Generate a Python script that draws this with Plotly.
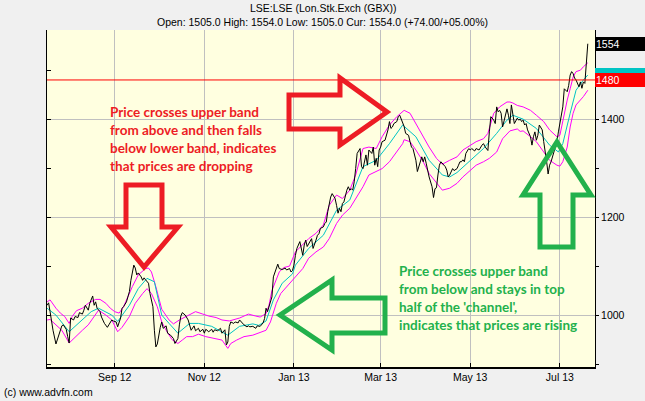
import plotly.graph_objects as go

# ---------------- data ----------------
price_dates = [
 "2012-07-17","2012-07-18","2012-07-19","2012-07-21","2012-07-23","2012-07-25","2012-07-27","2012-07-28","2012-07-30","2012-07-31",
 "2012-08-01","2012-08-02","2012-08-04","2012-08-05","2012-08-07","2012-08-08","2012-08-10","2012-08-11","2012-08-12","2012-08-14",
 "2012-08-15","2012-08-17","2012-08-18","2012-08-19","2012-08-20","2012-08-22","2012-08-23","2012-08-25","2012-08-27","2012-08-28",
 "2012-08-30","2012-08-31","2012-09-02","2012-09-03","2012-09-05","2012-09-06","2012-09-07","2012-09-09","2012-09-10","2012-09-11",
 "2012-09-12","2012-09-14","2012-09-15","2012-09-16","2012-09-17","2012-09-19","2012-09-20","2012-09-21","2012-09-22","2012-09-24",
 "2012-09-25","2012-09-27","2012-09-28","2012-09-29","2012-09-30","2012-10-01","2012-10-02","2012-10-03","2012-10-04","2012-10-06",
 "2012-10-07","2012-10-09","2012-10-11","2012-10-12","2012-10-14","2012-10-15","2012-10-16","2012-10-17","2012-10-19","2012-10-21",
 "2012-10-22","2012-10-23","2012-10-25","2012-10-26","2012-10-28","2012-10-29","2012-10-31","2012-11-01","2012-11-02","2012-11-04",
 "2012-11-06","2012-11-07","2012-11-08","2012-11-10","2012-11-12","2012-11-13","2012-11-15","2012-11-16","2012-11-17","2012-11-18",
 "2012-11-19","2012-11-21","2012-11-22","2012-11-24","2012-11-25","2012-11-27","2012-11-28","2012-11-30","2012-12-01","2012-12-02",
 "2012-12-04","2012-12-06","2012-12-07","2012-12-09","2012-12-11","2012-12-12","2012-12-13","2012-12-14","2012-12-16","2012-12-17",
 "2012-12-18","2012-12-20","2012-12-21","2012-12-22","2012-12-24","2012-12-26","2012-12-27","2012-12-29","2012-12-30","2012-12-31",
 "2013-01-01","2013-01-02","2013-01-03","2013-01-05","2013-01-06","2013-01-07","2013-01-08","2013-01-09","2013-01-10","2013-01-11",
 "2013-01-13","2013-01-14","2013-01-15","2013-01-16","2013-01-17","2013-01-18","2013-01-19","2013-01-21","2013-01-22","2013-01-23",
 "2013-01-24","2013-01-25","2013-01-26","2013-01-27","2013-01-29","2013-01-30","2013-01-31","2013-02-01","2013-02-02","2013-02-03",
 "2013-02-04","2013-02-06","2013-02-07","2013-02-08","2013-02-09","2013-02-10","2013-02-11","2013-02-12","2013-02-13","2013-02-15",
 "2013-02-16","2013-02-17","2013-02-18","2013-02-19","2013-02-20","2013-02-21","2013-02-23","2013-02-24","2013-02-25","2013-02-26",
 "2013-02-27","2013-02-28","2013-03-01","2013-03-02","2013-03-04","2013-03-05","2013-03-06","2013-03-07","2013-03-08","2013-03-09",
 "2013-03-10","2013-03-12","2013-03-13","2013-03-14","2013-03-15","2013-03-16","2013-03-17","2013-03-18","2013-03-20","2013-03-21",
 "2013-03-22","2013-03-23","2013-03-24","2013-03-25","2013-03-26","2013-03-28","2013-03-29","2013-03-30","2013-03-31","2013-04-01",
 "2013-04-02","2013-04-03","2013-04-05","2013-04-06","2013-04-07","2013-04-08","2013-04-09","2013-04-10","2013-04-11","2013-04-12",
 "2013-04-14","2013-04-15","2013-04-16","2013-04-17","2013-04-18","2013-04-19","2013-04-20","2013-04-22","2013-04-23","2013-04-24",
 "2013-04-25","2013-04-26","2013-04-27","2013-04-28","2013-04-30","2013-05-01","2013-05-02","2013-05-03","2013-05-04","2013-05-05",
 "2013-05-06","2013-05-07","2013-05-09","2013-05-10","2013-05-11","2013-05-12","2013-05-13","2013-05-14","2013-05-15","2013-05-17",
 "2013-05-18","2013-05-19","2013-05-20","2013-05-21","2013-05-22","2013-05-23","2013-05-25","2013-05-26","2013-05-27","2013-05-28",
 "2013-05-29","2013-05-30","2013-05-31","2013-06-02","2013-06-03","2013-06-04","2013-06-05","2013-06-06","2013-06-07","2013-06-08",
 "2013-06-09","2013-06-11","2013-06-12","2013-06-13","2013-06-14","2013-06-15","2013-06-16","2013-06-17","2013-06-19","2013-06-20",
 "2013-06-21","2013-06-22","2013-06-23","2013-06-24","2013-06-25","2013-06-27","2013-06-28","2013-06-29","2013-06-30","2013-07-01",
 "2013-07-02","2013-07-03","2013-07-04","2013-07-06","2013-07-07","2013-07-08","2013-07-09","2013-07-10","2013-07-11","2013-07-12",
 "2013-07-14","2013-07-15","2013-07-16","2013-07-17","2013-07-18","2013-07-19","2013-07-20",
]
price_close = [
 1020,1025,1007,969,941,959,978,980,971,956,
 943,994,990,997,995,1005,1002,1010,1020,1010,
 1024,1039,1020,1027,1014,1007,996,983,975,980,
 990,988,986,976,994,1014,1017,1027,1037,1048,
 1071,1102,1096,1082,1086,1078,1071,1076,1072,1065,
 1044,1017,969,935,941,963,975,986,973,978,
 963,959,952,942,952,980,998,1005,1000,990,
 976,969,978,968,973,966,971,963,971,966,
 971,965,970,968,973,963,970,939,945,977,
 986,983,986,984,990,983,980,976,978,976,
 977,973,978,977,984,993,1014,1007,1024,1037,
 1078,1099,1104,1095,1093,1096,1092,1095,1088,1091,
 1102,1122,1136,1150,1136,1122,1143,1153,1140,1146,
 1156,1136,1143,1153,1163,1166,1177,1180,1187,1190,
 1211,1231,1241,1248,1238,1224,1208,1218,1211,1228,
 1231,1255,1262,1255,1258,1255,1272,1299,1330,1340,
 1303,1299,1316,1327,1306,1337,1330,1343,1306,1320,
 1303,1337,1343,1354,1357,1367,1378,1395,1381,1384,
 1391,1395,1405,1408,1400,1391,1385,1371,1367,1354,
 1343,1340,1327,1316,1293,1316,1323,1313,1323,1310,
 1296,1282,1262,1240,1258,1260,1286,1306,1313,1310,
 1303,1296,1282,1286,1293,1299,1295,1299,1306,1313,
 1313,1317,1313,1330,1340,1337,1340,1337,1335,1340,
 1338,1337,1347,1350,1344,1340,1336,1374,1405,1398,
 1391,1425,1415,1418,1412,1384,1411,1421,1408,1391,
 1429,1405,1391,1402,1398,1400,1395,1398,1388,1391,
 1378,1364,1347,1364,1374,1357,1367,1388,1378,1354,
 1337,1313,1288,1306,1313,1333,1340,1354,1374,1391,
 1408,1425,1462,1456,1469,1490,1497,1493,1484,1480,
 1466,1476,1463,1476,1473,1517,1554,
]

upper_dates = [
 "2012-07-17","2012-07-19","2012-07-23","2012-07-26","2012-07-29","2012-08-01","2012-08-03","2012-08-06","2012-08-10","2012-08-14",
 "2012-08-19","2012-08-22","2012-08-26","2012-08-29","2012-09-01","2012-09-04","2012-09-07","2012-09-09","2012-09-13","2012-09-17",
 "2012-09-22","2012-09-24","2012-09-26","2012-09-29","2012-10-01","2012-10-03","2012-10-08","2012-10-11","2012-10-15","2012-10-18",
 "2012-10-22","2012-10-26","2012-10-31","2012-11-04","2012-11-09","2012-11-13","2012-11-18","2012-11-21","2012-11-25","2012-11-28",
 "2012-12-01","2012-12-06","2012-12-09","2012-12-13","2012-12-15","2012-12-17","2012-12-20","2012-12-22","2012-12-25","2012-12-29",
 "2013-01-02","2013-01-07","2013-01-11","2013-01-16","2013-01-21","2013-01-25","2013-01-30","2013-02-03","2013-02-08","2013-02-12",
 "2013-02-17","2013-02-21","2013-02-26","2013-03-02","2013-03-07","2013-03-12","2013-03-16","2013-03-17","2013-03-21","2013-03-25",
 "2013-03-30","2013-04-03","2013-04-08","2013-04-12","2013-04-17","2013-04-22","2013-04-26","2013-05-01","2013-05-05","2013-05-10",
 "2013-05-13","2013-05-17","2013-05-21","2013-05-26","2013-05-28","2013-05-30","2013-06-02","2013-06-06","2013-06-11","2013-06-15",
 "2013-06-20","2013-06-24","2013-06-29","2013-07-01","2013-07-03","2013-07-06","2013-07-08","2013-07-10","2013-07-12","2013-07-15",
 "2013-07-17","2013-07-20",
]
upper_band = [
 1027,1031,1014,1004,997,983,997,1009,1014,1024,
 1032,1032,1024,1014,1007,1004,1017,1031,1058,1082,
 1095,1096,1088,1058,1034,1012,990,982,990,995,
 1002,1007,1002,998,995,990,988,990,994,998,
 1002,998,996,1003,1020,1050,1075,1088,1097,1100,
 1129,1143,1156,1167,1184,1224,1245,1238,1255,1286,
 1340,1343,1340,1364,1388,1405,1416,1418,1412,1391,
 1367,1343,1320,1308,1316,1323,1337,1347,1354,1360,
 1371,1412,1425,1435,1435,1433,1428,1425,1418,1408,
 1395,1378,1364,1367,1398,1439,1462,1486,1497,1500,
 1507,1515,
]

lower_dates = [
 "2012-07-17","2012-07-19","2012-07-23","2012-07-27","2012-08-01","2012-08-03","2012-08-06","2012-08-10","2012-08-14","2012-08-18",
 "2012-08-21","2012-08-26","2012-08-30","2012-09-03","2012-09-06","2012-09-11","2012-09-15","2012-09-20","2012-09-23","2012-09-26",
 "2012-09-30","2012-10-03","2012-10-06","2012-10-10","2012-10-14","2012-10-17","2012-10-20","2012-10-24","2012-10-28","2012-11-02",
 "2012-11-06","2012-11-13","2012-11-17","2012-11-19","2012-11-23","2012-11-28","2012-12-04","2012-12-08","2012-12-13","2012-12-16",
 "2012-12-20","2012-12-23","2012-12-28","2012-12-31","2013-01-02","2013-01-07","2013-01-11","2013-01-16","2013-01-21","2013-01-25",
 "2013-01-30","2013-02-03","2013-02-08","2013-02-12","2013-02-17","2013-02-21","2013-02-26","2013-03-02","2013-03-07","2013-03-12",
 "2013-03-16","2013-03-17","2013-03-21","2013-03-25","2013-03-30","2013-04-03","2013-04-08","2013-04-12","2013-04-17","2013-04-22",
 "2013-04-26","2013-05-01","2013-05-05","2013-05-10","2013-05-14","2013-05-19","2013-05-23","2013-05-28","2013-05-31","2013-06-02",
 "2013-06-04","2013-06-06","2013-06-11","2013-06-15","2013-06-20","2013-06-24","2013-06-29","2013-07-01","2013-07-03","2013-07-06",
 "2013-07-08","2013-07-10","2013-07-12","2013-07-15","2013-07-17","2013-07-20",
]
lower_band = [
 990,991,980,969,943,949,959,969,980,997,
 1010,1000,990,966,975,997,1024,1044,1054,1044,
 1017,986,969,950,942,949,956,956,961,956,
 953,949,932,942,949,956,959,963,969,986,
 1024,1044,1061,1070,1078,1095,1116,1129,1139,1156,
 1187,1204,1218,1238,1262,1286,1293,1299,1313,1333,
 1350,1358,1354,1337,1313,1289,1269,1255,1259,1269,
 1282,1296,1306,1313,1320,1333,1360,1376,1378,1380,
 1375,1376,1364,1354,1333,1316,1306,1304,1313,1343,
 1384,1412,1429,1439,1446,1459,
]

mid_dates = [
 "2012-07-17","2012-07-23","2012-08-01","2012-08-07","2012-08-16","2012-08-21","2012-08-30","2012-09-03","2012-09-11","2012-09-17",
 "2012-09-23","2012-09-28","2012-10-03","2012-10-08","2012-10-14","2012-10-22","2012-10-28","2012-11-06","2012-11-17","2012-11-25",
 "2012-12-04","2012-12-08","2012-12-13","2012-12-18","2012-12-24","2012-12-31","2013-01-02","2013-01-11","2013-01-21","2013-01-30",
 "2013-02-08","2013-02-17","2013-02-26","2013-03-07","2013-03-16","2013-03-25","2013-04-03","2013-04-12","2013-04-17","2013-04-22",
 "2013-05-01","2013-05-10","2013-05-19","2013-05-26","2013-05-30","2013-06-06","2013-06-15","2013-06-24","2013-06-30","2013-07-03",
 "2013-07-08","2013-07-12","2013-07-17","2013-07-20",
]
mid_band = [
 1014,1000,966,983,1007,1014,1000,987,1020,1054,
 1075,1068,1000,983,963,983,983,977,959,977,
 982,979,988,1031,1065,1084,1102,1136,1163,1214,
 1235,1303,1316,1350,1388,1364,1316,1286,1282,1291,
 1316,1340,1371,1398,1408,1400,1381,1347,1333,1350,
 1412,1459,1480,1490,
]

prev_close = 1480
last_price = 1554
last_mid = 1490

header_lines = ["LSE:LSE (Lon.Stk.Exch (GBX))",
                "Open: 1505.0 High: 1554.0 Low: 1505.0 Cur: 1554.0 (+74.00/+05.00%)"]
red_note = ["Price crosses upper band", "from above and then falls",
            "below lower band, indicates", "that prices are dropping"]
green_note = ["Price crosses upper band", "from below and stays in top",
              "half of the 'channel',", "indicates that prices are rising"]

# ---------------- layout helpers (page geometry only) ----------------
W, H = 645, 401
L, R, T, B = 47, 595, 30, 367


def px(x, y):
    return (x - L) / (R - L), (B - y) / (B - T)


def path(points):
    pts = [px(x, y) for x, y in points]
    s = "M {:.5f},{:.5f} ".format(*pts[0])
    s += " ".join("L {:.5f},{:.5f}".format(*p) for p in pts[1:])
    return s + " Z"


FONT = "Liberation Sans"
RED = "#ED1C24"
GREEN = "#22B14C"

fig = go.Figure()
fig.add_trace(go.Scatter(x=upper_dates, y=upper_band, mode="lines",
                         line=dict(color="#FF00FF", width=1), hoverinfo="skip"))
fig.add_trace(go.Scatter(x=lower_dates, y=lower_band, mode="lines",
                         line=dict(color="#FF00FF", width=1), hoverinfo="skip"))
fig.add_trace(go.Scatter(x=mid_dates, y=mid_band, mode="lines",
                         line=dict(color="#00C4C4", width=1), hoverinfo="skip"))
fig.add_trace(go.Scatter(x=price_dates, y=price_close, mode="lines",
                         line=dict(color="#000000", width=1), hoverinfo="skip"))
# invisible trace to activate left mirror axis
fig.add_trace(go.Scatter(x=[price_dates[0]], y=[price_close[0]], yaxis="y2",
                         mode="markers", marker=dict(opacity=0), hoverinfo="skip"))

yr = [894, 1582]
fig.update_layout(
    width=W, height=H,
    margin=dict(l=L, r=W - R, t=T, b=H - B, pad=0),
    paper_bgcolor="#F0F0F0", plot_bgcolor="#FFFFE0",
    showlegend=False,
    font=dict(family=FONT, size=10.5, color="#000000"),
    xaxis=dict(type="date", range=["2012-07-16 21:50", "2013-07-24 21:50"],
               tick0="2012-09-01", dtick="M2", tickformat="%b %y",
               ticks="inside", ticklen=4, tickcolor="#000000",
               showgrid=True, gridcolor="#C0C0C0", gridwidth=1,
               showline=True, linecolor="#000000", linewidth=1.5,
               zeroline=False, tickfont=dict(size=10.5)),
    yaxis=dict(range=yr, side="right", dtick=200, tick0=0,
               ticks="outside", ticklen=3, tickcolor="#000000",
               minor=dict(dtick=100, tick0=0, ticks="outside", ticklen=3,
                          tickcolor="#000000", showgrid=False),
               showgrid=True, gridcolor="#C0C0C0", gridwidth=1,
               showline=True, linecolor="#000000", linewidth=1,
               zeroline=False, tickfont=dict(size=10.5)),
    yaxis2=dict(range=yr, overlaying="y", side="left", dtick=100, tick0=0,
                ticks="inside", ticklen=4, tickcolor="#000000",
                showticklabels=False, showgrid=False, zeroline=False,
                showline=True, linecolor="#000000", linewidth=1),
)

shapes = [dict(type="line", xref="paper", yref="y", x0=0, x1=1,
               y0=prev_close, y1=prev_close, line=dict(color="#FF0000", width=1))]
arrows = [
    ([(126, 185), (162, 185), (162, 227), (178, 227), (144, 267), (111, 227), (126, 227)], RED),
    ([(289, 95), (340, 95), (340, 78), (387, 112), (340, 145), (340, 129), (289, 129)], RED),
    ([(280, 315), (332, 280), (332, 298), (385, 298), (385, 333), (332, 333), (332, 350)], GREEN),
    ([(557, 142), (591, 195), (573, 195), (573, 247), (540, 247), (540, 195), (523, 195)], GREEN),
]
for pts, col in arrows:
    shapes.append(dict(type="path", xref="paper", yref="paper", path=path(pts),
                       line=dict(color=col, width=5), fillcolor="rgba(0,0,0,0)",
                       layer="above"))
fig.update_layout(shapes=shapes)

ann = []
for i, txt in enumerate(header_lines):
    _, yp = px(0, 8 + 14 * i)
    ann.append(dict(text=txt, xref="paper", yref="paper", x=(W / 2 - L) / (R - L), y=yp,
                    xanchor="center", yanchor="middle", showarrow=False,
                    font=dict(size=10.5, family=FONT)))
xp, yp = px(2, 392)
ann.append(dict(text="(c) www.advfn.com", xref="paper", yref="paper", x=xp, y=yp,
                xanchor="left", yanchor="middle", showarrow=False,
                font=dict(size=10.5, family=FONT)))
for i, txt in enumerate(red_note):
    xp, yp = px(108, 112 + 18 * i)
    ann.append(dict(text="<b>%s</b>" % txt, xref="paper", yref="paper", x=xp, y=yp,
                    xanchor="left", yanchor="middle", showarrow=False,
                    font=dict(size=13.5, family="Lato", color=RED)))
for i, txt in enumerate(green_note):
    xp, yp = px(397, 271 + 18 * i)
    ann.append(dict(text="<b>%s</b>" % txt, xref="paper", yref="paper", x=xp, y=yp,
                    xanchor="left", yanchor="middle", showarrow=False,
                    font=dict(size=13.5, family="Lato", color=GREEN)))
# last-value tags on the right axis
for val, txt, bg in [(last_price, str(last_price), "#000000"),
                     (last_mid, " ", "#00C4C4"),
                     (prev_close, str(prev_close), "#FF0000")]:
    ann.append(dict(text=txt, xref="paper", yref="y", x=1, y=val, xanchor="left",
                    yanchor="middle", showarrow=False, align="left", width=48, height=12,
                    borderpad=1, borderwidth=0, bgcolor=bg,
                    font=dict(size=10.5, family=FONT, color="#FFFFFF")))
fig.update_layout(annotations=ann)

fig.write_html("out.html")
